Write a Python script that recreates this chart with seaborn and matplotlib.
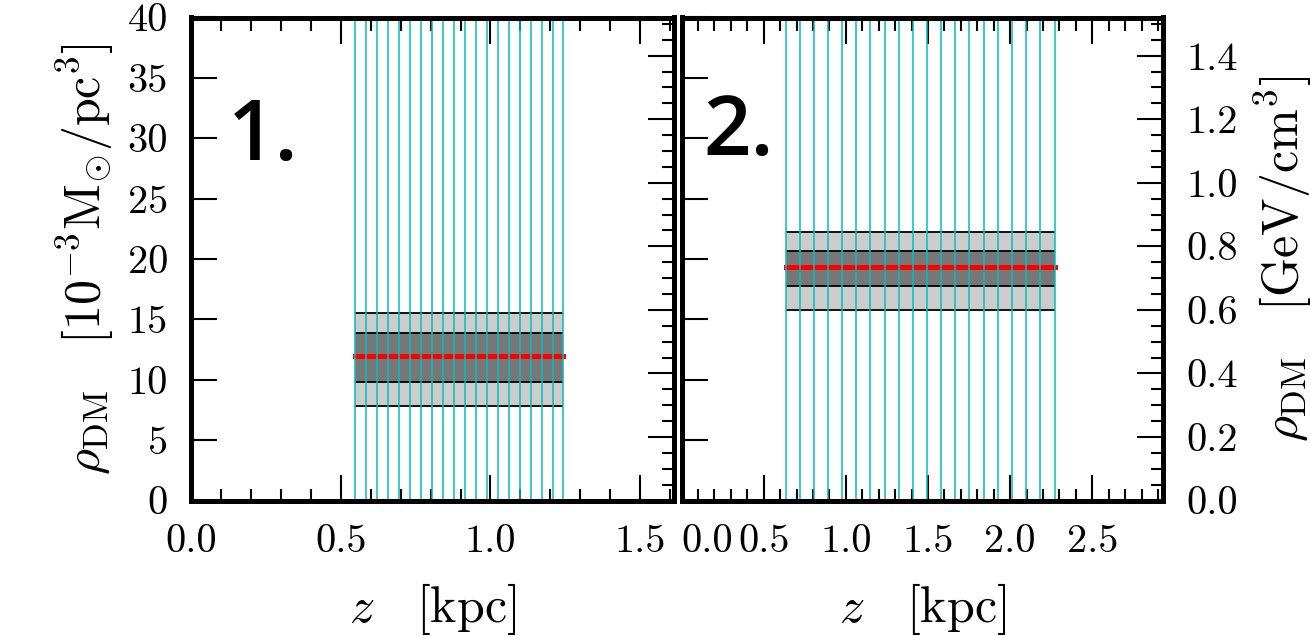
import numpy as np
import pandas as pd
import matplotlib
matplotlib.use("Agg")
import matplotlib.pyplot as plt
from matplotlib.ticker import FixedLocator
import seaborn as sns

# ---------------- data ----------------
z_bins_1 = [0.547, 0.584, 0.620, 0.658, 0.695, 0.731, 0.768, 0.804, 0.841, 0.878,
            0.915, 0.952, 0.988, 1.025, 1.061, 1.098, 1.134, 1.171, 1.208, 1.244]
z_bins_2 = [0.634, 0.722, 0.807, 0.894, 0.979, 1.064, 1.150, 1.237, 1.322, 1.409,
            1.495, 1.580, 1.667, 1.752, 1.838, 1.925, 2.010, 2.097, 2.183, 2.270]

rho_mid_1 = 12.0
rho_1sig_1 = [9.8, 13.9]
rho_2sig_1 = [7.8, 15.5]

rho_mid_2 = 19.3
rho_1sig_2 = [17.8, 20.7]
rho_2sig_2 = [15.75, 22.25]

panel_labels = ["1.", "2."]
xlims = [1.614, 2.93]
ymax = 40.0
gev_per_unit = 0.038

x_major_1 = [0.0, 0.5, 1.0, 1.5]
x_major_2 = [0.0, 0.5, 1.0, 1.5, 2.0, 2.5]
x_labels_1 = ["0.0", "0.5", "1.0", "1.5"]
x_labels_2 = ["0.0", "0.5", "1.0", "1.5", "2.0", "2.5"]
y_major = [0, 5, 10, 15, 20, 25, 30, 35, 40]
y_labels = ["0", "5", "10", "15", "20", "25", "30", "35", "40"]
gev_major = [0.0, 0.2, 0.4, 0.6, 0.8, 1.0, 1.2, 1.4]
gev_labels = ["0.0", "0.2", "0.4", "0.6", "0.8", "1.0", "1.2", "1.4"]

# ---------------- style ----------------
sns.set_style("ticks")
plt.rcParams["font.family"] = ["cmr10", "DejaVu Serif"]
plt.rcParams["mathtext.fontset"] = "cm"
plt.rcParams["axes.unicode_minus"] = False
for k in ["text.color", "axes.labelcolor", "xtick.color", "ytick.color", "axes.edgecolor"]:
    plt.rcParams[k] = "black"

W, H = 1310, 636
fig = plt.figure(figsize=(W / 100, H / 100), dpi=100)
bot = 1 - 500.5 / H
hgt = 483 / H
ax1 = fig.add_axes([191.5 / W, bot, 482.5 / W, hgt])
ax2 = fig.add_axes([681.5 / W, bot, 481.5 / W, hgt])

SP_LW = 3.5
MAJ_L, MIN_L, TW = 19, 9, 1.5
TICK_FS = 29
LAB_FS = 36

panels = [
    (ax1, z_bins_1, rho_mid_1, rho_1sig_1, rho_2sig_1, xlims[0], x_major_1, x_labels_1),
    (ax2, z_bins_2, rho_mid_2, rho_1sig_2, rho_2sig_2, xlims[1], x_major_2, x_labels_2),
]

for i, (ax, zb, mid, s1, s2, xmax, xmaj, xlab) in enumerate(panels):
    x_span = [zb[0], zb[-1]]
    ax.fill_between(x_span, s2[0], s2[1], color="#cccccc", lw=0, zorder=1)
    ax.fill_between(x_span, s1[0], s1[1], color="#777777", lw=0, zorder=2)
    for yv in [s2[0], s1[0], s1[1], s2[1]]:
        ax.hlines(yv, x_span[0], x_span[1], color="black", lw=1.3, zorder=3)
    df = pd.DataFrame({"z": x_span, "rho": [mid, mid]})
    sns.lineplot(data=df, x="z", y="rho", ax=ax, color="red", lw=3.6,
                 solid_capstyle="projecting", zorder=4)
    ax.vlines(zb, 0, 1, transform=ax.get_xaxis_transform(), color="#00bfbf",
              lw=1.1, zorder=5)

    ax.set_xlim(0, xmax)
    ax.set_ylim(0, ymax)
    ax.xaxis.set_major_locator(FixedLocator(xmaj))
    ax.set_xticks(np.arange(0, xmax, 0.1), minor=True)
    ax.set_xticklabels(xlab)
    ax.set_yticks(y_major)
    if i == 0:
        ax.set_yticklabels(y_labels)
        ax.set_ylabel(r"$\rho_{\rm DM}\quad[10^{-3}{\rm M}_{\odot}/{\rm pc}^3]$",
                      fontsize=LAB_FS, labelpad=8)
    else:
        ax.set_yticklabels([])
        ax.set_ylabel("")
    ax.set_xlabel(r"$z\quad[{\rm kpc}]$", fontsize=LAB_FS, labelpad=15)

    ax.tick_params(axis="x", which="major", direction="in", length=MAJ_L, width=TW,
                   top=True, bottom=True, labelsize=TICK_FS, pad=17)
    ax.tick_params(axis="x", which="minor", direction="in", length=MIN_L, width=TW,
                   top=True, bottom=True)
    ax.tick_params(axis="y", which="major", direction="in", length=MAJ_L, width=TW,
                   left=True, right=False, labelsize=TICK_FS, pad=17)
    for sp in ax.spines.values():
        sp.set_linewidth(SP_LW)
        sp.set_color("black")
        sp.set_visible(True)

    tw = ax.twinx()
    tw.set_ylim(0, ymax * gev_per_unit)
    tw.set_yticks(gev_major)
    tw.set_yticks(np.arange(0, ymax * gev_per_unit, 0.05), minor=True)
    if i == 1:
        tw.set_yticklabels(gev_labels)
        tw.set_ylabel(r"$\rho_{\rm DM}\quad[{\rm GeV}/{\rm cm}^3]$",
                      fontsize=LAB_FS, labelpad=10)
    else:
        tw.set_yticklabels([])
    tw.tick_params(axis="y", which="major", direction="in", length=MAJ_L, width=TW,
                   right=True, left=False, labelsize=TICK_FS, pad=17)
    tw.tick_params(axis="y", which="minor", direction="in", length=MIN_L, width=TW,
                   right=True, left=False)
    for sp in tw.spines.values():
        sp.set_linewidth(SP_LW)
        sp.set_color("black")

    ax.text([0.075, 0.045][i], [0.705, 0.715][i], panel_labels[i],
            transform=ax.transAxes, fontsize=60, family=["Open Sans", "DejaVu Sans"],
            weight="semibold", color="black", va="baseline", ha="left", zorder=6)

# first x label of second panel is left-aligned
ax2.get_xticklabels()[0].set_horizontalalignment("left")

fig.savefig("out.png", dpi=100)
